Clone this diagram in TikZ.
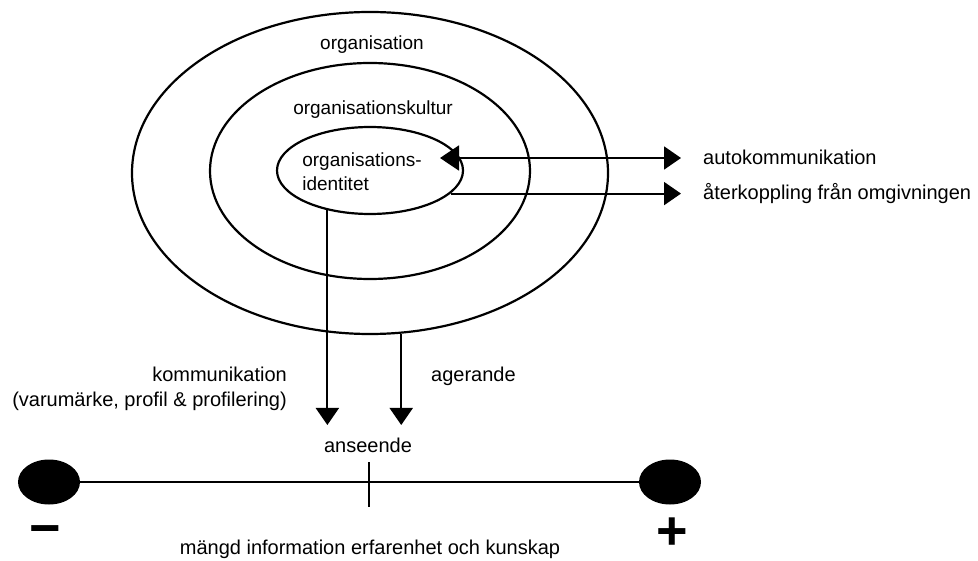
\documentclass[tikz,border=0pt]{standalone}
\usepackage{fontspec}
\setmainfont{Liberation Sans}
\usetikzlibrary{shapes.geometric, arrows.meta, positioning, calc}

\begin{document}
\begin{tikzpicture}[x=1pt, y=-1pt,
    ring/.style={draw, ellipse, line width=2.2pt, inner sep=0pt},
    lbl/.style={font=\fontsize{20}{25}\selectfont, inner sep=0pt},
    flow/.style={line width=2pt, -{Triangle[length=17pt,width=23pt]}},
    dot/.style={fill, ellipse, minimum width=62pt, minimum height=45pt, inner sep=0pt},
    sign/.style={font=\fontsize{54}{54}\selectfont\bfseries, inner sep=0pt, anchor=base}]
  \useasboundingbox[fill=white] (0,0) rectangle (978,561);
  % rings
  \node[ring, minimum width=476pt, minimum height=322pt] (org) at (370,173) {};
  \node[ring, minimum width=320pt, minimum height=216pt] (kultur) at (370,171) {};
  \node[ring, minimum width=186pt, minimum height=87pt] (ident) at (370,170.5) {};
  \node[lbl, font=\fontsize{19}{25}\selectfont, anchor=base] (orgtxt) at (372,50) {organisation};
  \node[lbl, font=\fontsize{19}{25}\selectfont, anchor=base] (kulturtxt) at (373,115) {organisationskultur};
  \node[lbl, font=\fontsize{19}{24}\selectfont, align=left] (identtxt) at (362,172) {organisations-\\identitet};
  % right side
  \node[lbl, anchor=base west] (auto) at (703,165) {autokommunikation};
  \node[lbl, anchor=base west] (feedback) at (703,200) {återkoppling från omgivningen};
  \coordinate (selfL) at (440,158);
  \coordinate (autotip) at ([xshift=-22pt]auto.west);
  \coordinate (fbtip) at ([xshift=-22pt]feedback.west);
  \draw[flow, {Triangle[length=19pt,width=25pt]}-{Triangle[length=17pt,width=23pt]}] (selfL) -- (selfL -| autotip);
  \draw[flow] (ident.-16) -- (ident.-16 -| fbtip);
  % downwards
  \node[lbl, align=right, anchor=east] (komm) at (287,389) {kommunikation\\(varumärke, profil \& profilering)};
  \node[lbl, anchor=base west] (act) at (431,382) {agerande};
  \node[lbl, anchor=base] (rep) at (368,453) {anseende};
  \coordinate (hit) at (370,425);
  \draw[flow] (ident.-137) -- (ident.-137 |- hit);
  \draw[flow] (org.-79) -- (org.-79 |- hit);
  % scale
  \node[dot] (low) at (49,482) {};
  \node[dot] (high) at (670,482) {};
  \draw[line width=2pt] (low) -- (high);
  \draw[line width=1.6pt] (369,462) -- (369,507);
  \node[sign] (neg) at (45,546) {−};
  \node[sign] (pos) at (672,549) {+};
  \node[lbl, anchor=base] (amount) at (370,554) {mängd information erfarenhet och kunskap};
\end{tikzpicture}
\end{document}
